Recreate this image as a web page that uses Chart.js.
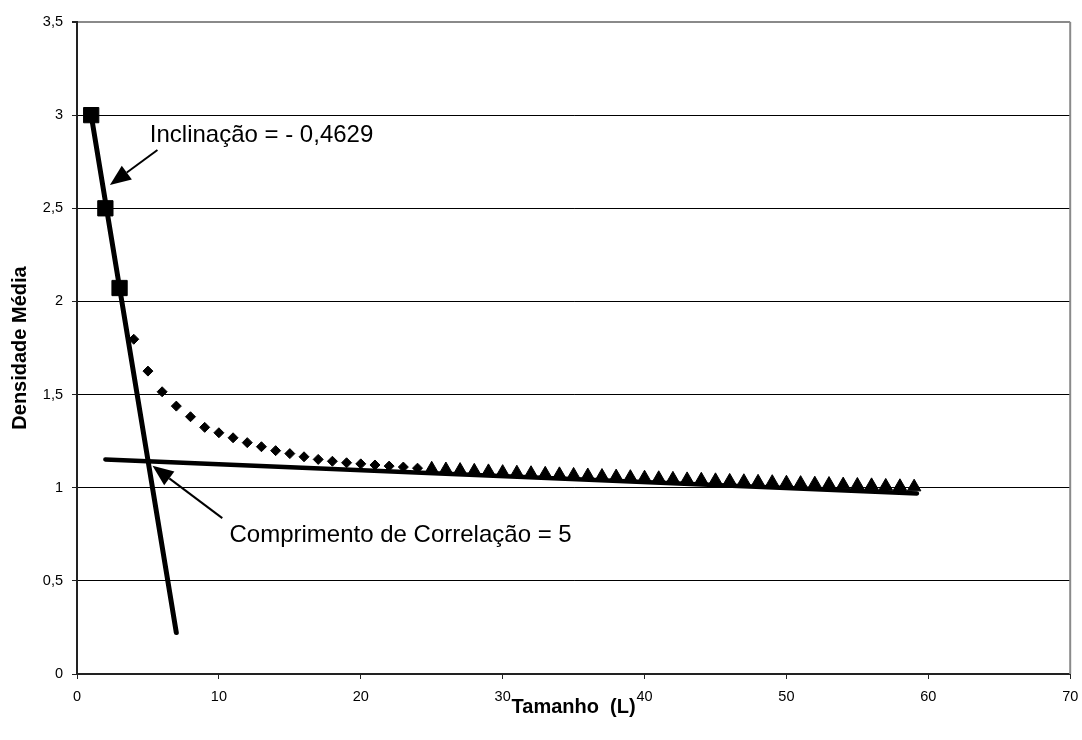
<!DOCTYPE html>
<html>
<head>
<meta charset="utf-8">
<title>Densidade Média x Tamanho</title>
<script src="https://cdn.jsdelivr.net/npm/chart.js@4/dist/chart.umd.min.js"></script>
<style>
  html, body { margin: 0; padding: 0; background: #ffffff; }
  canvas { display: block; }
</style>
</head>
<body>
<canvas id="chart" width="1082" height="740"></canvas>
<script>
// Primeiros pontos medidos (quadrados)
const squareX = [1, 2, 3];
const squareY = [3.0, 2.5, 2.072];

// Pontos intermediários (losangos)
const diamondX = [4, 5, 6, 7, 8, 9, 10, 11, 12, 13, 14, 15, 16, 17, 18, 19, 20, 21, 22, 23, 24];
const diamondY = [1.797, 1.626, 1.515, 1.438, 1.381, 1.324, 1.295, 1.268, 1.242, 1.220, 1.199,
                  1.183, 1.166, 1.152, 1.142, 1.134, 1.128, 1.122, 1.116, 1.111, 1.105];

// Pontos do patamar (triângulos)
const triangleX = [25, 26, 27, 28, 29, 30, 31, 32, 33, 34, 35, 36, 37, 38, 39, 40, 41, 42,
                   43, 44, 45, 46, 47, 48, 49, 50, 51, 52, 53, 54, 55, 56, 57, 58, 59];
const triangleY = [1.100, 1.096, 1.093, 1.089, 1.086, 1.082, 1.079, 1.076, 1.073, 1.070,
                   1.067, 1.064, 1.061, 1.058, 1.055, 1.052, 1.049, 1.046, 1.043, 1.041,
                   1.038, 1.035, 1.033, 1.030, 1.028, 1.025, 1.023, 1.020, 1.018, 1.015,
                   1.013, 1.011, 1.008, 1.006, 1.004];

// Reta de inclinação (passa pelo primeiro ponto)
const steepSlope = -0.4629;
const steepX = [1, 7];
const steepY = steepX.map(x => squareY[0] + steepSlope * (x - squareX[0]));

// Reta do patamar
const flatX = [2, 59.2];
const flatY = [1.152, 0.969];

// Eixos
const xTicks = [0, 10, 20, 30, 40, 50, 60, 70];
const yTicks = [0, 0.5, 1, 1.5, 2, 2.5, 3, 3.5];

const toPoints = (xs, ys) => xs.map((x, i) => ({ x: x, y: ys[i] }));
const fmt = v => String(v).replace('.', ',');

const FONT = "'Liberation Sans', Arial, sans-serif";

// Textos com seta, em coordenadas dos dados
const callouts = [
  { text: 'Inclinação = - ' + fmt(Math.abs(steepSlope)),
    textAt: [5.13, 2.857], from: [5.67, 2.813], to: [2.32, 2.625] },
  { text: 'Comprimento de Correlação = 5',
    textAt: [10.75, 0.706], from: [10.24, 0.837], to: [5.32, 1.118] }
];

const calloutPlugin = {
  id: 'callouts',
  afterDatasetsDraw(chart) {
    const { ctx, scales: { x, y }, chartArea } = chart;
    ctx.save();
    // moldura cinza à direita
    ctx.strokeStyle = '#8a8a8a';
    ctx.lineWidth = 2;
    ctx.beginPath();
    ctx.moveTo(chartArea.right, chartArea.top);
    ctx.lineTo(chartArea.right, chartArea.bottom);
    ctx.stroke();

    ctx.fillStyle = '#000';
    ctx.strokeStyle = '#000';
    ctx.font = '24px ' + FONT;
    ctx.textBaseline = 'alphabetic';
    ctx.textAlign = 'left';
    callouts.forEach(c => {
      ctx.fillText(c.text, x.getPixelForValue(c.textAt[0]), y.getPixelForValue(c.textAt[1]));
      const x0 = x.getPixelForValue(c.from[0]), y0 = y.getPixelForValue(c.from[1]);
      const x1 = x.getPixelForValue(c.to[0]), y1 = y.getPixelForValue(c.to[1]);
      const ang = Math.atan2(y1 - y0, x1 - x0);
      const headLen = 21, headHalf = 8.5;
      const bx = x1 - headLen * Math.cos(ang), by = y1 - headLen * Math.sin(ang);
      ctx.lineWidth = 2;
      ctx.beginPath();
      ctx.moveTo(x0, y0);
      ctx.lineTo(bx, by);
      ctx.stroke();
      ctx.beginPath();
      ctx.moveTo(x1, y1);
      ctx.lineTo(bx + headHalf * Math.sin(ang), by - headHalf * Math.cos(ang));
      ctx.lineTo(bx - headHalf * Math.sin(ang), by + headHalf * Math.cos(ang));
      ctx.closePath();
      ctx.fill();
    });
    ctx.restore();
  }
};

new Chart(document.getElementById('chart'), {
  type: 'scatter',
  data: {
    datasets: [
      { label: 'Inclinação', data: toPoints(steepX, steepY), showLine: true,
        borderColor: '#000', borderWidth: 5, borderCapStyle: 'round', pointRadius: 0 },
      { label: 'Patamar', data: toPoints(flatX, flatY), showLine: true,
        borderColor: '#000', borderWidth: 4.5, borderCapStyle: 'round', pointRadius: 0 },
      { label: 'Quadrados', data: toPoints(squareX, squareY), pointStyle: 'rect',
        pointRadius: 10.8, backgroundColor: '#000', borderColor: '#000', borderWidth: 1 },
      { label: 'Losangos', data: toPoints(diamondX, diamondY), pointStyle: 'rectRot',
        pointRadius: 5, backgroundColor: '#000', borderColor: '#000', borderWidth: 1 },
      { label: 'Triângulos', data: toPoints(triangleX, triangleY), pointStyle: 'triangle',
        pointRadius: 7.8, backgroundColor: '#000', borderColor: '#000', borderWidth: 1 }
    ]
  },
  options: {
    responsive: false,
    animation: false,
    devicePixelRatio: 1,
    layout: { padding: { top: 22, right: 8, left: 0, bottom: 0 } },
    plugins: { legend: { display: false }, tooltip: { enabled: false } },
    scales: {
      x: {
        type: 'linear', min: 0, max: 70,
        afterBuildTicks: s => { s.ticks = xTicks.map(v => ({ value: v })); },
        afterFit: s => { s.height = 66; s.paddingLeft = 0; s.paddingRight = 0; },
        ticks: { color: '#000', font: { family: FONT, size: 14.5 }, padding: 9,
                 maxRotation: 0, callback: v => fmt(v) },
        grid: { drawOnChartArea: false, drawTicks: true, tickLength: 5, tickColor: '#222', lineWidth: 1 },
        border: { display: true, color: '#222', width: 2 },
        title: { display: true, text: 'Tamanho  (L)', color: '#000',
                 font: { family: FONT, size: 20, weight: 'bold' }, padding: { top: 0, bottom: 21 } }
      },
      y: {
        type: 'linear', min: 0, max: 3.5,
        afterBuildTicks: s => { s.ticks = yTicks.map(v => ({ value: v })); },
        afterFit: s => { s.width = 77; s.paddingTop = 0; s.paddingBottom = 0; },
        ticks: { color: '#000', font: { family: FONT, size: 14.5 }, padding: 9, callback: v => fmt(v) },
        grid: {
          drawOnChartArea: true, drawTicks: true, tickLength: 5, tickColor: '#222',
          color: c => (c.tick && c.tick.value === 3.5) ? '#8a8a8a' : '#000',
          lineWidth: c => (c.tick && c.tick.value === 3.5) ? 2 : 1
        },
        border: { display: true, color: '#222', width: 2 },
        title: { display: true, text: 'Densidade Média', color: '#000',
                 font: { family: FONT, size: 20, weight: 'bold' }, padding: { top: 8, bottom: 0 } }
      }
    }
  },
  plugins: [calloutPlugin]
});
</script>
</body>
</html>
